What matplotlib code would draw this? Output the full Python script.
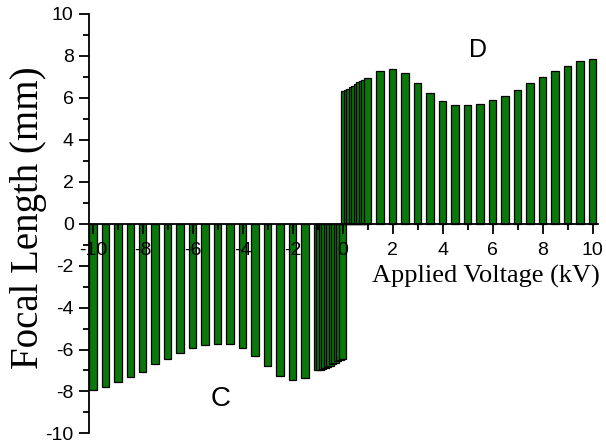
import matplotlib
matplotlib.use("Agg")
import matplotlib.pyplot as plt
from matplotlib.ticker import MultipleLocator

# Negative voltage series (C)
neg_voltage = [-10.0, -9.5, -9.0, -8.5, -8.0, -7.5, -7.0, -6.5, -6.0, -5.5, -5.0,
               -4.5, -4.0, -3.5, -3.0, -2.5, -2.0, -1.5,
               -1.0, -0.9, -0.8, -0.7, -0.6, -0.5, -0.4, -0.3, -0.2, -0.1, 0.0]
neg_focal = [-7.92, -7.81, -7.57, -7.32, -7.05, -6.71, -6.46, -6.17, -5.95, -5.80, -5.73,
             -5.76, -5.93, -6.30, -6.77, -7.24, -7.44, -7.36,
             -7.00, -6.98, -6.95, -6.90, -6.84, -6.77, -6.70, -6.62, -6.55, -6.48, -6.44]

# Positive voltage series (D)
pos_voltage = [0.1, 0.2, 0.3, 0.4, 0.5, 0.6, 0.7, 0.8, 0.9, 1.0,
               1.5, 2.0, 2.5, 3.0, 3.5, 4.0, 4.5, 5.0, 5.5, 6.0, 6.5, 7.0,
               7.5, 8.0, 8.5, 9.0, 9.5, 10.0]
pos_focal = [6.35, 6.37, 6.42, 6.50, 6.58, 6.66, 6.74, 6.81, 6.87, 6.95,
             7.30, 7.40, 7.19, 6.73, 6.25, 5.87, 5.68, 5.66, 5.72, 5.88, 6.11, 6.39,
             6.69, 6.98, 7.27, 7.54, 7.75, 7.86]

x_ticks = [-10, -8, -6, -4, -2, 0, 2, 4, 6, 8, 10]
y_ticks = [-10, -8, -6, -4, -2, 0, 2, 4, 6, 8, 10]

fig = plt.figure(figsize=(6.06, 4.44), dpi=100)
ax = fig.add_axes([0.1469, 0.0239, 0.840, 0.9446])

bar_color = "#0a780a"
for xv, yv in zip(neg_voltage, neg_focal):
    ax.bar(xv, yv, width=0.3, color=bar_color, edgecolor="black", linewidth=0.9, zorder=1)
for xv, yv in zip(pos_voltage, pos_focal):
    ax.bar(xv, yv, width=0.3, color=bar_color, edgecolor="black", linewidth=0.9, zorder=1)

ax.set_xlim(-10.15, 10.22)
ax.set_ylim(-10, 10)

ax.spines["top"].set_visible(False)
ax.spines["right"].set_visible(False)
ax.spines["bottom"].set_position(("data", 0))
for s in ("left", "bottom"):
    ax.spines[s].set_linewidth(1.3)

ax.set_xticks(x_ticks)
ax.set_yticks(y_ticks)
ax.set_xticklabels([str(t) for t in x_ticks])
ax.set_yticklabels([str(t) for t in y_ticks])
ax.xaxis.set_minor_locator(MultipleLocator(1))
ax.yaxis.set_minor_locator(MultipleLocator(1))

ax.tick_params(axis="both", which="major", direction="out", length=7, width=1.3,
               labelsize=14)
ax.tick_params(axis="both", which="minor", direction="out", length=4, width=1.3)
ax.tick_params(axis="x", which="major", pad=6)
ax.tick_params(axis="y", which="major", pad=4)
for lab in ax.get_xticklabels() + ax.get_yticklabels():
    lab.set_fontfamily("Liberation Sans")

ax.text(10.3, -2.5, "Applied Voltage (kV)", ha="right", va="center",
        fontsize=19, family="Liberation Serif")
fig.text(0.047, 0.51, "Focal Length (mm)", rotation=90, ha="center", va="center",
         fontsize=28, family="Liberation Serif")

ax.text(-4.9, -8.35, "C", ha="center", va="center", fontsize=20, family="Liberation Sans")
ax.text(5.4, 8.3, "D", ha="center", va="center", fontsize=18, family="Liberation Sans")

fig.savefig("out.png", dpi=100)
